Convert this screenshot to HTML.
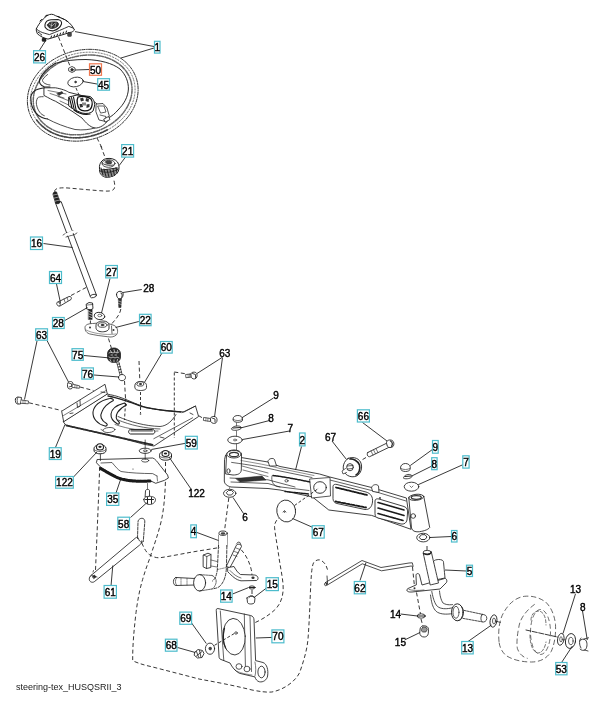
<!DOCTYPE html>
<html><head><meta charset="utf-8"><style>
html,body{margin:0;padding:0;background:#fff;width:603px;height:719px;overflow:hidden}
svg{display:block}
.ov{position:absolute;left:0;top:0;will-change:transform}
</style></head><body>
<svg width="603" height="719" viewBox="0 0 603 719">
<g fill="none" stroke="#202020" stroke-width="0.9" stroke-linecap="round" stroke-linejoin="round">
<path d="M58.5,37 L70,66" stroke-dasharray="4 2.6" stroke-linecap="butt"/>
<path d="M97,138 L103,150" stroke-dasharray="4 2.6" stroke-linecap="butt"/>
<path d="M100.8,146 L105.3,158" stroke-dasharray="4 2.6" stroke-linecap="butt"/>
<path d="M114,180.7 C114.8,184 115.2,187 114,189 C112.5,191 109,191.3 104,191 C95,190.5 80,189 68,188 C60,187.5 55,188 54.5,191.5" stroke-dasharray="4 2.6" stroke-linecap="butt"/>
<path d="M71,295.5 L88,286.5" stroke-dasharray="4 2.6" stroke-linecap="butt"/>
<path d="M90.4,320.5 L90.4,329" stroke-dasharray="4 2.6" stroke-linecap="butt"/>
<path d="M120.8,309 C120,314 117,318 112,323.5" stroke-dasharray="4 2.6" stroke-linecap="butt"/>
<path d="M108.5,338.5 L111.5,348.5" stroke-dasharray="4 2.6" stroke-linecap="butt"/>
<path d="M124.5,381 L125.5,398" stroke-dasharray="4 2.6" stroke-linecap="butt"/>
<path d="M139,361 L139.8,380" stroke-dasharray="4 2.6" stroke-linecap="butt"/>
<path d="M174.3,372 L186,373.8" stroke-dasharray="4 2.6" stroke-linecap="butt"/>
<path d="M29,402.8 L61.5,410.5" stroke-dasharray="4 2.6" stroke-linecap="butt"/>
<path d="M80,387 L93.5,390.5" stroke-dasharray="4 2.6" stroke-linecap="butt"/>
<path d="M198.5,415.6 L203.5,418.5" stroke-dasharray="4 2.6" stroke-linecap="butt"/>
<path d="M165.5,462 L165.5,480 C165,495 164,508 161.5,520 C158,535 153,548 149.3,559.6 C146.5,567 144.5,573 142.6,579.5 C139.5,590 137.5,601 136,612.7 C134,630 132.5,646 132.7,660.8 C140,664 146,665.5 152,666.8 C168,671 184,675 199,679 C215,682 232,685 252,690 C260,691.5 266,692.5 271.8,692 C283,690 295,682 299.6,672.7 C304,660 307,650 308,639 C309.5,620 310,600 310.8,583.6 C311.5,572 312,566 313.6,562.7 C316,559.5 320,559 322,561 C325,563 326.5,566 327.5,569.6" stroke-dasharray="4 2.6" stroke-linecap="butt"/>
<path d="M99.7,467 C98.5,500 97,535 95.5,570" stroke-dasharray="4 2.6" stroke-linecap="butt"/>
<path d="M141.7,542.9 C144,548 146.5,553 149.7,554.8 C153,557 156,557.8 159.6,557.8 C172,556 186,553 199.4,550.8 C208,549.5 214,548.5 219.8,547.4" stroke-dasharray="4 2.6" stroke-linecap="butt"/>
<path d="M241.3,549.9 C246,555 249.5,562 251.3,569.8 C252,573 252,576 252,579.7" stroke-dasharray="4 2.6" stroke-linecap="butt"/>
<path d="M252,590 L252,595" stroke-dasharray="4 2.6" stroke-linecap="butt"/>
<path d="M228.8,498 L224.6,530" stroke-dasharray="4 2.6" stroke-linecap="butt"/>
<path d="M229.5,487.5 L229.5,488.5" stroke-dasharray="4 2.6" stroke-linecap="butt"/>
<path d="M366,457.5 L361,460.5" stroke-dasharray="4 2.6" stroke-linecap="butt"/>
<path d="M427,546 L427,550" stroke-dasharray="4 2.6" stroke-linecap="butt"/>
<path d="M412.5,567 L414.6,587.7" stroke-dasharray="4 2.6" stroke-linecap="butt"/>
<path d="M416.5,592.5 L420.5,614" stroke-dasharray="4 2.6" stroke-linecap="butt"/>
<path d="M421,619 L423,626.5" stroke-dasharray="4 2.6" stroke-linecap="butt"/>
<path d="M281.5,515.5 C277,519 274,523 274.6,527.8 C275.5,537 277.5,546 278.7,555.7 C280,565 282,574 283,583.6 C284,595 281,604 274.6,610 C268,616 261,620 253.5,623.3" stroke-dasharray="4 2.6" stroke-linecap="butt"/>
</g>
<g stroke="#202020" stroke-width="0.8" stroke-linejoin="round" stroke-linecap="round">
<ellipse cx="82.75" cy="95.25" rx="56.2" ry="44.9" fill="none" stroke-width="0.85" stroke-dasharray="3 1.2 1.2 1.2" stroke="#222" transform="rotate(-16.5 82.75 95.25)"/>
<ellipse cx="82.75" cy="95.1" rx="53.2" ry="41.9" fill="none" stroke-width="0.7" stroke-dasharray="1.2 1.8" stroke="#444" transform="rotate(-16.5 82.75 95.25)"/>
<ellipse cx="82.75" cy="94.9" rx="50.2" ry="38.9" fill="none" stroke-width="1.5" stroke-dasharray="1.2 1 2.5 1.5 0.8 1.2" stroke="#666" transform="rotate(-16.5 82.75 95.25)"/>
<path d="M107.3,129.8 L103.2,131.9 L99.0,133.6 L94.6,135.1 L90.1,136.2 L85.6,137.1 L81.0,137.6 L76.5,137.8 L72.0,137.7 L67.6,137.3 L63.3,136.5 L59.2,135.4 L55.2,134.0 L51.4,132.3 L47.9,130.4 L44.7,128.1 L41.7,125.6 L39.0,122.9 L36.7,120.0" fill="none" stroke="#444" stroke-width="1.6" stroke-dasharray="1.5 1.2 3 1 1 1.5"/>
<path d="M55.4,63.3 C65,60.5 75,59.5 86,59.5 C100,60 112,63 120,69 C126,75 128.5,82 128.4,89 C128,97 124,104 118,110 C115,113.5 112,116 108.5,118" fill="none" stroke-width="0.95"/>
<path d="M44.3,87.8 L55.4,87.8 C62,89 66,90.5 68.8,92.3 L82,95.6 C89,98 94,101 98,105 L105,112 C108,115 109,118 108,120 C106,124 100,128.5 94.7,128 C90,127 86,123 82,118 L72,111.2 C67,108 62,105 55.4,101.2 C52,100 49,98 44.3,95.6 Z" fill="#fff" stroke-width="0.9"/>
<path d="M48,90.5 L66,94 M50,93.5 L64,98 M58,96.5 L72,102 M60,101 L74,107.5" fill="none" stroke-width="0.6"/>
<path d="M57,93.5 L62,91.5 L63,93 L59,95.5Z" fill="#333" stroke-width="0.5"/>
<path d="M69,97 L77,95 L90,96.5 C93,98 95,102 94.5,106 L93,111 C91,113.5 86,114 82,113 L74,109.5 L69,106Z" fill="#fff" stroke-width="1"/>
<path d="M69.5,98 L72,108 M71.5,97.5 L74,108.5 M73.5,97 L76,109.5" stroke="#111" stroke-width="1.1"/>
<path d="M78,97 C82,95.5 88,96.5 91,99 C93,102 92.5,107 90,109.5 C87,111.5 82,111.5 79.5,109 C77,106 76.5,100 78,97Z" fill="#fff" stroke="#111" stroke-width="1.3"/>
<path d="M80,98.5 l3,-1 l1,3 l-3,1z M86,98 l3,1 l-0.5,3 l-3,-1z M79.5,104 l3,0 l0.5,3 l-3,0.5z M86.5,104.5 l3,-0.5 l0,3 l-3,1z" fill="#333" stroke="none"/>
<path d="M82,102.5 l4,0 l0,3 l-4,0z" fill="#888" stroke="none"/>
<path d="M74,110 C78,113 84,115 90,114" fill="none" stroke="#111" stroke-width="1.2"/>
<path d="M96.5,104 L103,103.5 L107,108 L109.3,116 L106,121.5 L99,120 L96,112Z" fill="#fff" stroke-width="0.8"/>
<path d="M98,106 L104,106 L106,112 L101,113Z M100,115 L106,116.5 L105,120" fill="none" stroke-width="0.7"/>
<path d="M104,119 l4.5,-2.5 l1.5,3 l-4.5,2.5z" fill="#fff" stroke-width="0.8"/>
<path d="M55.4,63.3 C48,68 42,74 39.8,79 C38.5,82 40,85.5 44.3,86.7 L50,87" fill="none" stroke-width="1.1"/>
<path d="M47.6,74.5 C44.5,77 42.5,79 42.5,80.5 C43,83 46,84.5 50,85" fill="none" stroke-width="0.8"/>
<path d="M44.3,87.8 C40,88.5 36,89.5 34.2,91.2 C31.5,93.5 30.5,96 30.9,99 C31,104 32.5,109 35.4,112.3 C37.5,115 39.5,116.5 42,117.5 C44,118.3 46,118.8 47.6,119" fill="none" stroke-width="1.1"/>
<path d="M43.2,96.7 C40.5,96.5 38.5,97 37.6,97.9 C36.5,100 36,102.5 36.5,104.5 C37,108 38.5,110.5 39.8,112.3 C41,114 42.5,115 44.3,115.7" fill="none" stroke-width="0.8"/>
<path d="M47.6,119 C55,123 65,127 75,129.5 C83,130.5 90,129.5 94.7,128" fill="none" stroke-width="0.8"/>
<path d="M69,68 l3,-1.5 l3,1.5 l0,3 l-3,1.5 l-3,-1.5z" fill="#fff" stroke-width="0.8"/><circle cx="72" cy="69.8" r="1.2" fill="#333"/>
<ellipse cx="75.5" cy="82" rx="7.8" ry="4.7" fill="#fff" stroke-width="0.8" transform="rotate(-12 75.5 82)"/><circle cx="75.5" cy="82" r="0.8" fill="#333"/>
<path d="M36.4,28.7 C39,23 44,17.5 48,15.2 C50,14 53,13.8 55.4,15.6 L65,19.7 C68,21.5 71,24 73.3,27.9 L74.5,30 C73,31.5 71.5,32.5 70.3,32.4 L48,39.1 C44,38.5 40,36 37.5,33.9 C36.5,32 36,30.5 36.4,28.7Z" fill="#fff" stroke-width="1"/>
<path d="M37,29.5 C39,31 41.5,32.5 44.2,33.1 L49.4,34.6 C56,32 63,29 68.8,26.4 L73,28" fill="none" stroke-width="0.9"/>
<path d="M38,32 l1.5,1 M40.5,34 l1.2,1 M51,37.5 l0.5,-1.5 M54,36.6 l0.5,-1.5 M57,35.6 l0.5,-1.5 M60,34.6 l0.5,-1.5 M63,33.6 l0.5,-1.5 M66,32.5 l0.5,-1.5 M45,16.5 l2,-1.5 M40,21 l1.5,-1.5 M58,16.5 l2,0.8 M62,18.3 l1.5,0.8 M66,20.5 l1.5,1" fill="none" stroke-width="1" stroke="#111"/>
<path d="M45,24.5 C45.5,21.5 48,20 51,19.7 L58,19.5 C60.5,20 62,21.5 61.5,24 C60.5,27 57.5,29.5 53.5,30.8 C50,31 46.5,29.5 45,27Z" fill="#fff" stroke-width="1.1"/>
<path d="M47.5,25 C48,23 50,22 52,22 L56.5,22 C58.5,22.5 59,24 58,25.8 C56.5,27.5 54,28.5 51.5,28.5 C49.5,28.3 48,27 47.5,25Z" fill="#333" stroke-width="0.8"/>
<path d="M49,24 l3,2 l3,-3 M51,27.5 l1,-5 M55,27 l1,-4" stroke="#ddd" stroke-width="0.6" fill="none"/>
<rect x="42" y="38" width="4" height="3.5" rx="1" fill="#222" stroke-width="0.4"/><rect x="67.5" y="32.5" width="4" height="4" rx="1" fill="#444" stroke-width="0.4"/>
<path d="M99.5,166 C100,162 103,159 107,158.5 C111,158 115,159 117.5,162 C119.5,165 119.5,169 118,172 C116,175.5 111,177.5 106,177.3 C102,176.5 99.5,174 99.5,170 Z" fill="#fff" stroke-width="1"/>
<ellipse cx="108.5" cy="163.5" rx="6.5" ry="3.8" fill="#fff" stroke-width="0.8"/>
<path d="M105,162 l2,-1.5 l3,0 l2,1.5 l-1,2 l-4,0z" fill="#444" stroke-width="0.5"/>
<path d="M100,168.5 C105,170.5 112,170.5 118.8,167 C118.5,171 116,175 111,176.8 C106,177.5 102,176 100.3,172Z" fill="#8a8a8a" stroke="none"/>
<path d="M101,168 L103,175 M104,169 L106,176.5 M107,169.5 L109,177 M110,169.5 L112,176.5 M113,169 L114.5,175.5 M116,167.5 L117,173 M102,170 L117,168" fill="none" stroke-width="1" stroke="#222"/>
<path d="M102,163 C104,165 109,166 114,165" fill="none" stroke="#333" stroke-width="0.9"/>
<path d="M100,171 C105,173 112,173 118.5,169" fill="none" stroke-width="0.8"/>
<path d="M55.5,203 L90.3,296.5 L96.4,295 L61.3,202 Z" fill="#fff" stroke-width="0.9"/>
<path d="M53,194 C53,192 55,191.5 56.5,192 L60,201.5 C60.5,203.5 57,204.5 55.8,203.3 Z" fill="#222" stroke-width="0.8"/>
<path d="M53.5,195 l5,-1 M54.5,198 l5,-1.2 M55.5,201 l4.5,-1" stroke="#fff" stroke-width="0.5"/>
<ellipse cx="93.3" cy="296" rx="3.2" ry="1.6" fill="#fff" stroke-width="0.8" transform="rotate(-15 93.3 296)"/>
<path d="M63,235 C66,232 70,233 73,231 M66,237 C70,235 74,236 77,233" fill="none" stroke-width="0.7"/>
<path d="M64.5,234 L68,236 L75,232.3 L72,230.5Z" fill="#fff" stroke="none"/>
<path d="M58,302 L69,296.5 C71,296 72,298 71,299.5 L60,306 C58,306.5 56.5,303.5 58,302Z" fill="#fff" stroke-width="0.85"/>
<ellipse cx="58.5" cy="304" rx="1.6" ry="2.2" fill="#fff" stroke-width="0.7" transform="rotate(-30 58.5 304)"/>
<path d="M64,299 l1,3 M67,297.5 l1,3" fill="none" stroke-width="0.6"/>
<path d="M86.5,304 L89,302.5 L92.5,303 L93,308.5 L90.5,310 L87,309Z" fill="#fff" stroke-width="0.9"/>
<path d="M86.8,305 L92.8,304.5" fill="none" stroke-width="0.6"/>
<rect x="88.6" y="309.5" width="3.6" height="10" fill="#222" stroke-width="0.4"/>
<path d="M89,311.5 l3,1.2 M89,314 l3,1.2 M89,316.5 l3,1.2" stroke="#fff" stroke-width="0.6"/>
<ellipse cx="99.5" cy="316" rx="5.3" ry="3.6" fill="#fff" stroke-width="0.85" transform="rotate(10 99.5 316)"/>
<ellipse cx="99.8" cy="315.5" rx="2" ry="1.3" fill="#fff" stroke-width="0.6"/>
<path d="M116.5,294.5 C116.5,292 118.5,291.3 120,291.3 C122,291.3 123.3,292.5 123.2,294.5 C123,297 121.5,299 120,299 C118,299 116.6,297 116.5,294.5Z" fill="#fff" stroke-width="0.9"/>
<path d="M121,293 C122.5,294 122.6,296 121.5,297.5" stroke="#555" stroke-width="1.2" fill="none"/>
<path d="M118.3,299 L118.8,307.5 L121,307.5 L121.5,299Z" fill="#333" stroke-width="0.5"/>
<path d="M118.5,301 l2.8,1 M118.6,303.5 l2.8,1" stroke="#fff" stroke-width="0.5"/>
<path d="M85,327.5 C85,324.5 89,323.5 93,323.5 L99,323 L108,323.5 L113,325 C116.5,326 118,329 117.5,332.5 C117,335.5 114,337 110,337 L98,335.5 L90,334 C86.5,333 85,331 85,327.5Z" fill="#fff" stroke="#444" stroke-width="0.8" stroke-dasharray="4 0.7"/>
<path d="M86,330 C92,333 104,335.5 116,334" fill="none" stroke="#555" stroke-width="0.6"/>
<path d="M96,325 C96,322.5 100,321 103,321 C106.5,321 109,322.5 109,325 L109,328 C109,330.5 106,331.8 102.5,331.8 C99,331.8 96,330.5 96,328Z" fill="#fff" stroke-width="0.9"/>
<ellipse cx="102.5" cy="325" rx="4.5" ry="2.3" fill="#fff" stroke-width="0.8"/>
<ellipse cx="102.5" cy="325" rx="1.6" ry="0.9" fill="#333" stroke-width="0.4"/>
<circle cx="90" cy="327.5" r="1" fill="#333" stroke="none"/><circle cx="113.5" cy="330" r="1" fill="#333" stroke="none"/>
<path d="M111.5,326 L112,333.5" stroke-width="0.7"/>
<path d="M107.5,354 C107.5,350 110.5,348 114,348 C117.5,348 120.5,350.5 120.5,354 L120.5,357 C120.5,360.5 117.5,362.5 114,362.5 C110.5,362.5 107.5,360.5 107.5,357Z" fill="#2a2a2a" stroke-width="0.8"/>
<path d="M109,353 l2,-1 l2,1 l2,-1 l2,1 l2,-1 M109,357 l2,1 l2,-1 l2,1 l2,-1 l2,1 M110.5,350.5 l1,2 M114,349.5 l0.5,2.5 M117.5,350.5 l-0.5,2 M110,359.5 l1,2 M114,360 l0,2 M117.5,359.5 l-0.5,2 M111,355 l1.5,0 M115,355 l1.5,0" fill="none" stroke="#eee" stroke-width="0.7"/>
<path d="M117,362 L118.8,361.7 L122.2,374.8 L120.4,375.1Z" fill="#fff" stroke-width="0.7"/>
<path d="M117.6,364.3 l1.9,-0.4 M118.3,367 l1.9,-0.4 M119,369.7 l1.9,-0.4 M119.7,372.4 l1.9,-0.4" stroke-width="0.8" stroke="#111"/>
<path d="M118.5,377.5 C118.5,375.5 120.5,374.5 122,374.5 C124,374.5 125.5,375.8 125.5,377.5 C125.5,379.5 123.8,380.7 122,380.7 C120,380.7 118.5,379.5 118.5,377.5Z" fill="#fff" stroke-width="0.85"/>
<path d="M134.8,385.5 C134.8,383 137,381.5 140.5,381.5 C144,381.5 146.5,383 146.5,385.5 L146.5,387.5 C146.5,389.5 144,390.5 140.5,390.5 C137,390.5 134.8,389.5 134.8,387.5Z" fill="#fff" stroke-width="0.85"/>
<path d="M137,384 L138.5,381.8 L142.5,381.8 L144,384 L142.5,386 L138.5,386Z" fill="#fff" stroke-width="0.8"/>
<ellipse cx="140.5" cy="384" rx="1.6" ry="1" fill="#333" stroke="none"/>
<path d="M63.5,421.5 L106.8,394 C112,395 117,396 122,398 C130,401 138,405 146,407.5 C156,409.5 166,410.8 176,411.3 L184,412 L195.5,406 L198.6,416.5 L154,446 L145,444.5 L115,436.5 L66.5,425.5 Z" fill="#fff" stroke-width="0.85"/>
<path d="M62,411 L105,384.3 L107.3,394 L64,421.5 Z" fill="#fff" stroke-width="0.85"/>
<path d="M63.5,415.5 L106,390.5" fill="none" stroke-width="0.6"/>
<path d="M77,403 L77.5,407.5 L80.3,406 L80,400.5" fill="none" stroke-width="0.8"/>
<path d="M70,413.5 l3,-0.5 M101,392 l4,0.5" fill="none" stroke-width="0.8"/>
<path d="M66.5,425.5 L115,436.5 L152.5,444.8" fill="none" stroke="#2a2a2a" stroke-width="1.8" stroke-dasharray="1.1 0.8"/>
<path d="M108,396 C118,398 130,402 142,406.5 C154,409.5 166,410.8 181,412" fill="none" stroke="#222" stroke-width="1.4" stroke-dasharray="2 0.8"/>
<path d="M153.8,438.7 L192.6,417.8 M182,412.6 L195.5,406" fill="none" stroke-width="0.7"/>
<path d="M190,413 l3,1.5 M160,437 l4,1" fill="none" stroke-width="0.8"/>
<path d="M109.6,398.5 C101,400.5 94,405 93,412 C92.5,418 97,424 105,426 C107,426.5 108,424.5 106.5,423.5 C101,420.5 99.5,416 102,411.5 C104,407 108.5,403 113,400.8 C114.5,399.5 111.5,398 109.6,398.5Z" fill="#fff" stroke-width="1.1"/>
<path d="M124.5,403 C117,405 111.5,409 111,414 C110.7,418 113,421.5 117.5,424 C119,424.5 120,423 119,422 C116,419.5 115.5,416 117.5,412.5 C119.5,409.5 123,406.5 126.5,405 Z" fill="#fff" stroke-width="1.1"/>
<path d="M118,416.5 C130,422 145,426 160,426.5 C167,426 172,421 176,414.5" fill="none" stroke-width="0.8"/>
<path d="M118,420 C130,425 145,428.5 160,429" fill="none" stroke-width="0.7"/>
<path d="M115,424.5 C128,429 145,432 158,431" fill="none" stroke-width="0.6"/>
<path d="M130,429.5 C128,430 128,433.5 130.5,434 L153,434 C155.5,433.5 155.5,430 153,429.5Z" fill="#fff" stroke-width="1"/>
<path d="M131,430.8 L152.5,430.8" stroke="#555" stroke-width="1.2"/>
<ellipse cx="109" cy="430" rx="6" ry="2.5" fill="#fff" stroke-width="0.7" transform="rotate(-5 109 430)"/>
<path d="M101,429.5 l2,1" stroke-width="0.6"/>
<circle cx="140.5" cy="414" r="0.8" fill="#333" stroke="none"/>
<path d="M15.5,399 C15,401 15.5,403.5 17.5,404 L20.5,404 L21.5,397.5 L18,397 C16.5,397 15.8,398 15.5,399Z" fill="#fff" stroke-width="0.85"/>
<path d="M18,397.3 C16.8,399 16.8,402 18,403.8" fill="none" stroke-width="0.7"/>
<path d="M21.5,400 L28.5,401 L28.3,403.8 L21,403.3" fill="#fff" stroke-width="0.7"/>
<path d="M23,400.3 l0,3 M25,400.6 l0,3" stroke-width="0.5"/>
<path d="M67.5,384 C67.5,382.3 69,381.5 70.5,381.5 C72,381.5 73,382.5 73,384 L73,386.5 C73,388 71.5,389 70,389 C68.5,389 67.5,388 67.5,386.5Z" fill="#fff" stroke-width="0.85"/>
<path d="M68.5,383 l3,0.8 l0,3 M69,387 l3,-1" fill="none" stroke="#444" stroke-width="0.9"/>
<path d="M73,384.3 L79.5,385.8 L79.3,388.3 L73,387.5" fill="#fff" stroke-width="0.7"/>
<path d="M75,384.8 l-0.2,2.8 M77,385.3 l-0.2,2.8" stroke-width="0.5"/>
<path d="M186,374.5 L191,374 L191.5,377 L186.3,377.7Z" fill="#fff" stroke-width="0.7"/>
<path d="M188,374.2 l0.2,3.2 M189.6,374 l0.2,3.2" stroke-width="0.5"/>
<path d="M191,373.5 C191.5,372 194,371.8 195.8,372.5 C197.5,373.5 197.5,377 196,378.3 C194.5,379.5 192,379 191.3,377.5Z" fill="#fff" stroke-width="0.85"/>
<path d="M192.5,373.5 l3,1 l0,3" fill="none" stroke="#444" stroke-width="1"/>
<path d="M204,417.5 L210.5,418.5 L210.3,421.5 L203.8,420.5Z" fill="#fff" stroke-width="0.7"/>
<path d="M206,417.8 l-0.2,3 M208,418.1 l-0.2,3" stroke-width="0.5"/>
<path d="M210.5,418 C211,416.5 213.5,416 215.5,416.8 C217.5,417.8 217.5,421.5 216,422.8 C214.5,424 212,423.5 211,422Z" fill="#fff" stroke-width="0.85"/>
<path d="M212,418 l3,1 l0,3" fill="none" stroke="#444" stroke-width="1"/>
<path d="M97.5,459.5 L152.7,458 C155,458.5 157.5,462 160,465.4 L167.6,475 L168.4,478 L164.6,480.3 L155.7,483.3 L152,481.5 C140,481.5 128,480 119.9,478 C114,476 109,473 106.4,470.6 L100.4,466.9 L96.7,463 Z" fill="#fff" stroke-width="0.85"/>
<path d="M100.5,468.5 C105,471 110,474 116,477 C121,479.3 127,480.5 133,481 C139,481.3 145,481.3 150,481" fill="none" stroke="#1a1a1a" stroke-width="3" stroke-dasharray="1 0.6"/>
<path d="M101,463 L112,462.5 C115,466 118,470 121,471.5 C130,473 142,473.5 152.7,473.6 L157,476" fill="none" stroke-width="0.7"/>
<path d="M157,476 L157.5,481" stroke-width="0.6"/>
<circle cx="133" cy="469" r="0.6" fill="#333" stroke="none"/>
<path d="M94,448.5 C94,446.2 96.5,445 100,445 C103.5,445 106,446.2 106,448.5 L106,450.5 C106,452.5 103.5,453.8 100,453.8 C96.5,453.8 94,452.5 94,450.5Z" fill="#fff" stroke-width="1"/>
<path d="M96.5,447.5 C96.5,445 98,443.8 100,443.8 C102,443.8 103.5,445 103.5,447.5 C103.5,449 102,450 100,450 C98,450 96.5,449 96.5,447.5Z" fill="#fff" stroke-width="1.1"/>
<path d="M94.5,450 C97,452 103,452 105.5,450" fill="none" stroke-width="0.7"/>
<ellipse cx="100" cy="446.8" rx="1.7" ry="1.1" fill="#222" stroke="none"/>
<path d="M159.5,455 C159.5,452.5 162,451.3 165.5,451.3 C169,451.3 171.5,452.5 171.5,455 L171.5,457 C171.5,459 169,460.2 165.5,460.2 C162,460.2 159.5,459 159.5,457Z" fill="#fff" stroke-width="1"/>
<path d="M162,454 C162,451.5 163.5,450.5 165.5,450.5 C167.5,450.5 169,451.5 169,454 C169,455.5 167.5,456.5 165.5,456.5 C163.5,456.5 162,455.5 162,454Z" fill="#fff" stroke-width="1.1"/>
<path d="M160,456.5 C162.5,458.5 168.5,458.5 171,456.5" fill="none" stroke-width="0.7"/>
<ellipse cx="165.5" cy="453.5" rx="1.7" ry="1.1" fill="#222" stroke="none"/>
<path d="M100.4,454.5 L100.4,460.5" stroke-width="0.8"/>
<ellipse cx="145.2" cy="450.8" rx="6" ry="2.6" fill="#fff" stroke-width="0.85"/>
<ellipse cx="145.2" cy="450.8" rx="1.8" ry="0.9" fill="#fff" stroke-width="0.7"/>
<ellipse cx="145.2" cy="460.5" rx="3.6" ry="1.6" fill="#fff" stroke-width="0.75"/>
<path d="M145.2,453.2 L145.2,459.5" stroke-width="0.7"/>
<path d="M145.2,440 L145.2,448.5" stroke-width="0.7"/>
<path d="M145.5,490.5 C145.5,489 149.5,489 149.5,490.5 L149.5,497 L145.5,497Z" fill="#fff" stroke-width="0.85"/>
<path d="M143.8,499.5 C143.8,497 147,496.3 149.5,496.3 C152.5,496.3 155.5,497.5 155.5,499.5 C155.5,502.5 152.5,504.5 149.5,504.5 C146.5,504.5 143.8,502.5 143.8,499.5Z" fill="#fff" stroke-width="0.85"/>
<path d="M145.5,499.5 L153.5,499.5 M147.5,497.5 L147.5,503.5 M151.5,497.5 L151.5,503.5" stroke="#222" stroke-width="1"/>
<path d="M147.5,483.5 L147.5,489" stroke-width="0.6"/>
<path d="M91,575.5 L135.5,538 C138,536 141.5,537.5 141.8,540.5 C142,542.5 141,544 139.7,545 L94.3,581.7 C92.5,583 89.5,582 89.3,579.5 C89.2,577.5 89.8,576.5 91,575.5Z" fill="#fff" stroke-width="0.85"/>
<path d="M137.5,538.5 L138,522 C138,519.5 140,518.3 142,518.3 C144,518.3 145,520 144.8,522 L143.3,541" fill="#fff" stroke-width="0.85" stroke-dasharray="3 1.2"/>
<path d="M138.2,538 C139,541.5 141.5,543.5 143.5,541.5" fill="none" stroke-width="0.8"/>
<path d="M92.5,576.5 l2,-1.5 l1.5,2 l-2,1.5z" fill="#333" stroke-width="0.6"/>
<path d="M93,572 L93.5,570.5 M92,575.5 L97,577" stroke-width="0.7"/>
<path d="M176,577.5 L195,578.5 L195,585 L176,585.5 C172.5,585.5 172.5,577.5 176,577.5Z" fill="#fff" stroke-width="0.85"/>
<path d="M176.5,578 C175,580 175,583 176.5,585" fill="none" stroke-width="0.6"/>
<path d="M181,578.5 l0,6.5 M187,578.5 l0,6.5" stroke-width="0.5" stroke-dasharray="1.5 1"/>
<ellipse cx="199.6" cy="582.8" rx="6" ry="8.2" fill="#fff" stroke-width="0.9"/>
<path d="M199.6,574.6 L212,575.5 M199.6,591 L212,589" fill="none" stroke-width="0.7" stroke-dasharray="2 1"/>
<path d="M212,575.5 C216,577 217,581 215.5,584.5 C214,588 212.5,589 212,589" fill="none" stroke-width="0.7" stroke-dasharray="2 1"/>
<path d="M218.9,535 L218.5,546 M227.2,533.3 L226.9,546" fill="none" stroke-width="0.85"/>
<path d="M218.5,546 L217.3,570 C216.5,576 215,579 212.5,581 M226.9,546 L226.4,568 C226,576 224,582 220,586 C218,588 215,588.5 213,588.8" fill="none" stroke-width="0.85" stroke-dasharray="3 1.5"/>
<path d="M218.9,535 L218.5,545 L227,545 L227.2,533.3Z" fill="#fff" stroke="none"/>
<ellipse cx="223" cy="533.2" rx="4.1" ry="2.2" fill="#fff" stroke-width="0.85"/>
<ellipse cx="223" cy="533.5" rx="2.3" ry="1.2" fill="#444" stroke="none"/>
<path d="M217.5,569.5 L226.4,567.5" stroke-width="0.5" stroke-dasharray="1.5 1"/>
<path d="M203.5,555 L208,553.2 L211,554.5 L210.8,567.5 L206.5,568.5 L203.5,567Z" fill="#fff" stroke-width="0.85"/>
<path d="M203.5,555 L206.8,556.5 L211,554.5 M206.8,556.5 L206.5,568.5" fill="none" stroke-width="0.7"/>
<path d="M211,560 L217,561.5 M211,566 L217,567" stroke-width="0.6"/>
<path d="M226.5,566 L236,546 C237,543.5 241,543.5 241.5,546.5 L230,567.5Z" fill="#fff" stroke-width="0.85"/>
<path d="M236.5,544 l1.5,-2 l2,0.5 l1,2.5" fill="none" stroke-width="0.7"/>
<path d="M236,548 l4,1.5 M234.5,551.5 l4,1.5 M233,555 l4,1.5" stroke-width="0.6"/>
<path d="M228,567.5 L234,566.5 C236,570 237.5,572.5 240.5,574.5 L254.5,575 C258.5,575.5 259,579.5 256.5,580.5 L241,580.8 C236,580 232,576 228,572Z" fill="#fff" stroke-width="0.85"/>
<ellipse cx="253" cy="577.8" rx="1.6" ry="1.2" fill="#333" stroke="none"/>
<path d="M230,570.5 C233,574 237,577 241,578" fill="none" stroke-width="0.6"/>
<ellipse cx="252" cy="587.5" rx="3" ry="1.6" fill="#fff" stroke-width="0.85"/>
<path d="M249,587.5 L255,587.5" stroke-width="1"/>
<path d="M247,598 L247.5,602.5 C248,604.5 253.5,604.5 254.5,602.5 L255,598 C254,595.5 248,595.5 247,598Z" fill="#fff" stroke-width="0.85"/>
<path d="M249,597.5 l1.5,-1.5 l2.5,0 l1,1.5" fill="none" stroke="#333" stroke-width="1"/>
<path d="M226,455 L241,457.5 L268,462 L280,466.5 L319.5,474 L329.8,477 L371.6,487.5 L406.4,498 L411,529.3 L371.6,515.4 L328.8,510 L312.5,497 L280,490 L268,488.5 L231,487 C227,486 224.5,484 224.3,481 L224.5,460 Z" fill="#fff" stroke-width="0.85"/>
<path d="M226.5,455 C226.5,451.5 230,450 234,450 C238,450 241.5,451.5 241.5,455 L241.3,470 C241,474 237,475 233,475 L226,474Z" fill="#fff" stroke-width="0.85"/>
<ellipse cx="234" cy="454.2" rx="7.2" ry="3.8" fill="#fff" stroke-width="0.85"/>
<ellipse cx="234" cy="454.5" rx="4.5" ry="2.2" fill="#fff" stroke-width="1.2" stroke="#333"/>
<ellipse cx="228.5" cy="471" rx="1.6" ry="2.2" fill="#fff" stroke-width="0.8"/>
<path d="M231.6,462.4 C250,465 266,467.5 280,471 L312,477.5 M329.8,480 L371.6,490.5 L406,501" fill="none" stroke-width="0.7"/>
<path d="M241,460.5 C255,463 268,465 280,468.5 L314,475.5" fill="none" stroke-width="0.5"/>
<path d="M242,466 L268,473 M243,470 L268,476.5" fill="none" stroke-width="0.6"/>
<path d="M273,475.5 C285,477 298,479.5 310,482" fill="none" stroke="#1a1a1a" stroke-width="1.5" stroke-dasharray="1.5 0.7"/>
<path d="M272,476 C271,481 273,485 277,486.5 L309,490.5" fill="none" stroke-width="0.7"/>
<ellipse cx="286.5" cy="480.8" rx="1.6" ry="1.2" fill="#fff" stroke-width="0.7"/>
<path d="M230,478 L268,479.8 L295,487 M231,482 L268,483.5 L280,487" fill="none" stroke-width="0.7"/>
<path d="M236,478.5 L262,476 L266,480 L240,482Z" fill="#333" stroke-width="0.5"/>
<path d="M285,491.5 L309,494" fill="none" stroke="#1a1a1a" stroke-width="1.4" stroke-dasharray="1.5 0.7"/>
<path d="M268,461 C268.5,458.5 273,457.5 274.5,459.5 L276.5,466 L270,466Z" fill="#fff" stroke-width="0.8"/>
<path d="M371.6,487.5 C372,484.5 377,483.5 378.5,486 L379,492.5 L373,491.5Z" fill="#fff" stroke-width="0.8"/>
<path d="M310,479 L330,477.5 L330.5,496 L312,498Z" fill="#fff" stroke-width="0.75"/>
<ellipse cx="320" cy="487.5" rx="6.3" ry="5.8" fill="#fff" stroke-width="0.9"/>
<circle cx="380" cy="498" r="0.9" fill="#333" stroke="none"/>
<path d="M333,486 C333,484.5 335,484 337,484.5 L366,492 C371,493.5 373,497 372.5,502 C372,507 369,510 365,509.5 L337,503.5 C334.5,503 333,501 333,499Z" fill="#fff" stroke-width="0.85"/>
<path d="M336,487.5 L367,495 M335.5,501.5 L366,507.5" fill="none" stroke="#1a1a1a" stroke-width="1.8" stroke-dasharray="1.2 0.6"/>
<path d="M375,500.5 C375,499 377,498.5 379,499 L404,506.5 C407,507.5 408,510 407.5,513 L407,520 C406.5,523 404,524.5 401,524 L378,518 C376,517.5 375,516 375,514Z" fill="#fff" stroke-width="0.85"/>
<path d="M378,502.5 L404,510 M378,508 L404,515.5 M378,513.5 L403,520.5" fill="none" stroke="#1a1a1a" stroke-width="1.6" stroke-dasharray="1.2 0.6"/>
<path d="M408.8,497.5 L411.5,528 C412,531 415.5,532 418,531.8 C422,531.6 428,530 429.7,527.5 L423.8,496.5 Z" fill="#fff" stroke-width="0.85"/>
<ellipse cx="416.3" cy="497.3" rx="7.5" ry="3" fill="#fff" stroke-width="0.85" transform="rotate(-6 416.3 497.3)"/>
<ellipse cx="416.3" cy="497.5" rx="5" ry="1.8" fill="#fff" stroke-width="1.3" stroke="#333"/>
<circle cx="413.2" cy="516" r="2.3" fill="#fff" stroke-width="0.8"/>
<path d="M233,419 C233,416.5 235.5,415.5 237.8,415.5 C240.3,415.5 242.5,416.5 242.5,419 L242.5,420 C242.5,421.5 240.3,422.3 237.8,422.3 C235.5,422.3 233,421.5 233,420Z" fill="#fff" stroke-width="0.85"/>
<path d="M233.3,419.5 C236,421 240,421 242.3,419.5" fill="none" stroke-width="0.6"/>
<path d="M231.5,428.5 C233,425.5 240,425 241.5,427.5 C241,430 235,431 232.5,430Z" fill="#fff" stroke-width="0.8"/>
<path d="M233,428 L240.5,427.5" stroke="#222" stroke-width="1.1"/>
<path d="M236.5,423 L236.5,426 M236.5,431 L236.5,436.5 M236.5,444 L236.5,450" stroke-width="0.6"/>
<ellipse cx="235" cy="440" rx="7.3" ry="3.8" fill="#fff" stroke-width="0.85"/>
<ellipse cx="235" cy="440" rx="1.6" ry="0.9" fill="#fff" stroke-width="0.6"/>
<ellipse cx="229.7" cy="493.3" rx="6.2" ry="4" fill="#fff" stroke-width="0.85"/>
<path d="M226.5,492.5 l2,-2 l3,0 l2,2 l-2,2.5 l-3,0z" fill="#fff" stroke="#333" stroke-width="0.9"/>
<ellipse cx="286.2" cy="511" rx="9.4" ry="11" fill="#fff" stroke-width="0.85" transform="rotate(-10 286.2 511)"/>
<path d="M283,512 l1.5,-1.5 l1.5,1.5" fill="none" stroke-width="0.7"/><circle cx="284.5" cy="512" r="0.8" fill="#333" stroke="none"/>
<path d="M348,458.5 C352,456.5 358,457.5 360.5,462 C363,467 361,474 356.5,476 C352,478 346,476 344,471.5 C342,467 344,461 348,458.5Z" fill="#fff" stroke-width="0.9"/>
<path d="M350,459 C353,458.5 358,461 359.5,465 C360.5,469 359,473.5 356,475" fill="none" stroke="#222" stroke-width="1.6"/>
<ellipse cx="350" cy="467.2" rx="3.3" ry="3.6" fill="#fff" stroke-width="0.85"/>
<path d="M347,466 l6,-0.5 M347.5,469 l5,-0.5" stroke-width="0.7"/>
<path d="M345.5,468.5 L342,471 L343,474 L346.5,472.5" fill="#fff" stroke-width="0.7"/>
<path d="M367.8,452.5 L387,443 L389,447.3 L369.8,456.6 C367.8,457.5 366.2,454 367.8,452.5Z" fill="#fff" stroke-width="0.85"/>
<path d="M371,451 l2,4 M373.5,449.8 l2,4 M376,448.6 l2,4" stroke-width="0.6"/>
<path d="M386.5,443 C386,440.5 389,439.5 391.5,440.2 C394,441 394.5,444.5 393,446.5 C391.5,448 388.5,448 387.5,446.5Z" fill="#fff" stroke-width="0.9"/>
<path d="M390.5,441 C392.5,442 393,444.5 391.5,446.3" fill="none" stroke="#333" stroke-width="1.3"/>
<path d="M400.5,467.5 C400.5,465 403,463.5 405.5,463.5 C408,463.5 410.3,465 410.3,467.5 L410.3,468.5 C410.3,470.5 408,471.5 405.5,471.5 C403,471.5 400.5,470.5 400.5,468.5Z" fill="#fff" stroke-width="0.85"/>
<path d="M401,468.5 C403,470 408,470 410,468.3" fill="none" stroke-width="0.6"/>
<path d="M403.8,477 C405,474 411,473.5 412.2,476 C411.8,478.5 406,479.5 404,478.5Z" fill="#fff" stroke-width="0.8"/>
<path d="M405,476.5 L411,476" stroke="#222" stroke-width="1.1"/>
<ellipse cx="411.5" cy="486.7" rx="7.3" ry="4.5" fill="#fff" stroke-width="0.85"/>
<path d="M410,486 l1.5,1.5 l1.5,-1.5" fill="none" stroke-width="0.6"/>
<ellipse cx="423.3" cy="537.6" rx="6.6" ry="4.3" fill="#fff" stroke-width="0.85"/>
<path d="M419.5,537 l2,-2.3 l3.5,0 l2,2.3 l-2,2.5 l-3.5,0z" fill="#fff" stroke="#333" stroke-width="1"/>
<path d="M433.5,562 C433.5,560 437,559.5 439,559.5 C441.5,559.5 443.5,560.5 443.5,562 L445,578 L435,580Z" fill="#fff" stroke-width="0.85" stroke-dasharray="2.5 0.8"/>
<path d="M416,575 C416,573 419,573 419.5,575 L422,585 L444.5,578.5 C447,578 447.5,582 446,583 L440,589 L412,592 C407,592.5 405.5,590 408,588.5 L416,585Z" fill="#fff" stroke-width="0.85"/>
<path d="M409,589.5 C412,590.5 418,590.8 424,590" fill="none" stroke-width="0.6"/>
<circle cx="414.5" cy="588.3" r="1" fill="#333" stroke="none"/>
<path d="M423.2,553 L430.2,585 L438.5,583 L431.2,551.5Z" fill="#fff" stroke-width="0.85" stroke-dasharray="3 0.8"/>
<ellipse cx="427.2" cy="552.2" rx="4" ry="1.8" fill="#fff" stroke-width="0.85"/>
<path d="M423.5,553.5 C426,555 429,555 431,553" fill="none" stroke="#222" stroke-width="1.3"/>
<path d="M431.8,591.5 C433,598 434.5,603 437,606 C440,609 446,609.5 453,607.6 L453,613.5 C446,614.5 440,614 436.5,611 C433,607 431,600 430,592Z" fill="#fff" stroke="none"/>
<path d="M431.8,591.5 C433,598 434.5,603 437,606 C440,609 446,609.5 453,607.6 M439.5,591 C440,596 441,600 443,603 C446,605 450,605 453,604.5" fill="none" stroke-width="0.8" stroke-dasharray="2.5 0.8"/>
<path d="M430.5,595 C431.5,603 433,609 437,612 C441,614.5 447,614.5 453,613.5" fill="none" stroke-width="0.8" stroke-dasharray="2.5 0.8"/>
<ellipse cx="457.3" cy="612.3" rx="5.8" ry="8.5" fill="#fff" stroke-width="0.95"/>
<path d="M460,605 C463,607 464,611 463,615.5 C462,619 460,621 458,620.5" fill="none" stroke-width="0.8"/>
<ellipse cx="456" cy="612.3" rx="3" ry="6" fill="#fff" stroke-width="0.7"/>
<path d="M464,610.4 L482.8,614.4 M463,618.4 L482,621.8" fill="none" stroke-width="0.8" stroke-dasharray="2 1"/>
<path d="M482,614.6 C480.5,616 480.5,620.5 482,621.8 C484,622.5 486.5,621.5 486.8,618.5 C487,615.5 484.5,614 482,614.6Z" fill="#fff" stroke-width="0.8"/>
<path d="M325.5,582.5 L362,560.5 L381,567.5 L409,563 L412.3,562.8 L413.2,566.5 L411,566 L381.5,570.8 L362.3,563.8 L326.5,585.5 C324.5,586.5 323.5,583.8 325.5,582.5Z" fill="#fff" stroke-width="0.8"/>
<path d="M327,576 L327.5,583" stroke-width="0.8"/><circle cx="326.8" cy="583.8" r="1.2" fill="#333" stroke="none"/>
<ellipse cx="421.2" cy="616" rx="4" ry="2.2" fill="#fff" stroke-width="0.85"/>
<path d="M417.5,616 L425,616" stroke="#222" stroke-width="1.2"/>
<path d="M420,629 C420,626.5 422.5,625.8 424.2,625.8 C426.5,625.8 428.5,627 428.5,629.5 L428.3,633.5 C428,636 426,637 424.2,637 C421.5,637 420,635.5 419.8,633.5Z" fill="#fff" stroke-width="0.85"/>
<path d="M421.3,629.5 l1.5,-2.5 l3,0 l1.5,2.5 l-1.5,2.5 l-3,0z" fill="#999" stroke="#222" stroke-width="0.7"/>
<path d="M499,641.5 C498,630 499.5,620 503.3,613.2 C509,603 516,597.5 524.5,596.3 C533,595.5 540,598 545.6,602 C551,607 554.5,615 555.5,624.5 C556,635 554.5,644 551.3,651.3 C547,658.5 540,662 531.5,662 C522,662 513,660 506,655.5 C502,652 499.5,647 499,641.5Z" fill="none" stroke="#333" stroke-width="0.75" stroke-dasharray="4.5 3.5"/>
<path d="M534.4,604.5 C527,610 520,618 518.8,627.3 C517,636 516.5,644 517.4,648.5 C519,653 522,657 527.3,658.3" fill="none" stroke="#333" stroke-width="0.75" stroke-dasharray="4.5 3.5"/>
<ellipse cx="540.5" cy="632" rx="10" ry="22.5" fill="none" stroke="#333" stroke-width="0.7" stroke-dasharray="4 3.5"/>
<path d="M531,620 C531,615 534,611 539,611 C544,612 546,618 546,625 M530,635 C530,645 533,652 538,653 C542,653 545,648 546,642" fill="none" stroke="#333" stroke-width="0.7" stroke-dasharray="3 2"/>
<path d="M526,630 L558.3,637.2" stroke="#222" stroke-width="0.9" stroke-dasharray="5 1.5"/>
<path d="M497,621.5 L500.5,622.4" stroke-width="0.7"/>
<ellipse cx="493.5" cy="621" rx="3.4" ry="6.2" fill="#fff" stroke-width="0.9" transform="rotate(10 493.5 621)"/>
<ellipse cx="494" cy="621" rx="1.5" ry="3" fill="#fff" stroke-width="0.7"/>
<ellipse cx="560.8" cy="639.3" rx="3.2" ry="6" fill="#fff" stroke-width="0.85" transform="rotate(10 560.8 639.3)"/>
<ellipse cx="561" cy="639.3" rx="1.3" ry="2.6" fill="#fff" stroke-width="0.65"/>
<ellipse cx="570.5" cy="641" rx="5" ry="7.5" fill="#fff" stroke-width="0.9" transform="rotate(10 570.5 641)"/>
<ellipse cx="570.8" cy="641" rx="2.3" ry="3.7" fill="#fff" stroke-width="0.7"/>
<path d="M581,638 C579,640 579,645 581,648 M579.5,641 C581,639 584,638.5 585.5,640 C587.5,642 587.5,647 585.5,649.5 C584,651 581,650.5 580,649" fill="none" stroke-width="0.85"/>
<path d="M584,639 L588.6,637.8 M584.5,650 L588,651" stroke-width="0.8"/>
<path d="M216.2,610 C216,608.5 217.5,608.3 219,608.8 L250.6,615.5 C253,616 254,618 254,620 L255.6,660.6 L263,662.5 C267,664 268.5,670 267.6,676 C267,680 263,682.5 259.5,681.8 C257,681.3 255.5,679 254.9,676.9 L239.4,673.3 C235,671 232,667 230,663 L221,659.5 C219.5,659 219,658 219,656.5 Z" fill="#fff" stroke-width="0.85"/>
<path d="M220.3,611 L223.8,660.5 M244.3,614 L245.5,670 M250,616 L251.5,671.5" fill="none" stroke-width="0.7"/>
<ellipse cx="234" cy="636.7" rx="11.2" ry="18.3" fill="#fff" stroke-width="0.85" transform="rotate(-3 234 636.7)"/>
<path d="M224.5,628 C223,634 223,642 225.5,648" fill="none" stroke="#222" stroke-width="1.2"/>
<ellipse cx="236" cy="633" rx="1.3" ry="1.2" fill="#fff" stroke-width="0.7"/>
<ellipse cx="239" cy="666.5" rx="3" ry="2.8" fill="#fff" stroke-width="0.75"/>
<ellipse cx="247" cy="669" rx="3" ry="2.8" fill="#fff" stroke-width="0.75"/>
<ellipse cx="261.5" cy="672" rx="3.6" ry="5.8" fill="#fff" stroke-width="0.85"/>
<path d="M255,662 C256,667 256,672 255,676" fill="none" stroke-width="0.6"/>
<path d="M234,669 C236,672 244,674 252,675" fill="none" stroke-width="0.5"/>
<ellipse cx="210" cy="648.7" rx="4.6" ry="5.6" fill="#fff" stroke-width="0.85"/>
<ellipse cx="210.2" cy="648.6" rx="1.7" ry="1.8" fill="#444" stroke="none"/>
<path d="M195,652 L198,649.5 L202.5,650.5 L204,653.5 L202,657.5 L197.5,658 L194.5,655.5Z" fill="#fff" stroke-width="0.85"/>
<path d="M196.5,651.5 l2,5.5 M199.5,650.3 l1.5,7 M202,651.5 l-5.5,4.5" stroke="#333" stroke-width="0.9"/>
</g>
<g fill="none" stroke="#202020" stroke-width="0.9">
<path d="M76,88 L79,95" stroke-dasharray="3 2"/>
<path d="M140.5,392 L140.5,413" stroke-dasharray="3 2"/>
<path d="M174.3,372.5 L174.3,438" stroke-dasharray="3 2"/>
<path d="M125.8,398.5 L124.5,420" stroke-dasharray="3 2"/>
<path d="M294.5,505.5 L319,488" stroke-dasharray="3 2"/>
<path d="M214.5,645.3 L235,633.1" stroke-dasharray="3 2"/>
</g>
<g fill="none" stroke="#151515" stroke-width="0.85">
<path d="M154,46.5 L75,31.6"/>
<path d="M154,48 L121,58"/>
<path d="M39,51 L46,40"/>
<path d="M89,69.5 L75,70"/>
<path d="M97,84 L83,81.5"/>
<path d="M125.7,156.8 L119.2,165.5"/>
<path d="M43.5,243.5 L72.5,247.5"/>
<path d="M56.5,284 L60.5,303"/>
<path d="M64.8,320.5 L87.5,307.5"/>
<path d="M110,278.5 L101.5,313"/>
<path d="M141.8,289.5 L123,292.5"/>
<path d="M138.8,321.5 L115.5,327.5"/>
<path d="M84,355.5 L108,357.8"/>
<path d="M94,375 L119,377"/>
<path d="M162,353 L144.5,382.3"/>
<path d="M55,448.6 L65,424.5"/>
<path d="M37,341 L24.5,399.5"/>
<path d="M47,340.5 L68.5,382"/>
<path d="M222,357.5 L197,373.5"/>
<path d="M222.5,357.5 L214.5,417"/>
<path d="M116,493 L120.6,479.5"/>
<path d="M73.5,477 L97,452"/>
<path d="M191,489 L169,457"/>
<path d="M185,443.4 L151.3,449.5"/>
<path d="M130.5,517.5 L146.5,503"/>
<path d="M111,586 L112.8,565.5"/>
<path d="M197,532.5 L218.5,540.5"/>
<path d="M232.5,594 L248,587.8"/>
<path d="M266.5,588 L254,597.5"/>
<path d="M301.5,446.5 L295.6,469.8"/>
<path d="M273.5,398 L241.5,418"/>
<path d="M269.5,420.5 L240.5,428"/>
<path d="M289.5,431 L242.5,439.5"/>
<path d="M243.5,513.5 L233,497.5"/>
<path d="M313,527.5 L292.5,518.5"/>
<path d="M332,441 L346.5,459.5"/>
<path d="M362.5,422.5 L387,441"/>
<path d="M432.3,449.6 L410.3,465.5"/>
<path d="M431.5,466.2 L411.8,476"/>
<path d="M462.6,464.8 L418.2,484.7"/>
<path d="M451.3,536.5 L430,537.5"/>
<path d="M466.5,571 L445,570"/>
<path d="M360,580.5 L366,562.5"/>
<path d="M400.5,614 L417.5,616"/>
<path d="M404.5,640 L420,632.5"/>
<path d="M468,641.5 L491.5,625"/>
<path d="M575.5,593.8 L563,633.5"/>
<path d="M582.5,611 L587.3,640"/>
<path d="M561.5,662.6 L572.4,646"/>
<path d="M190.5,621.5 L206.3,643.5"/>
<path d="M177.5,647.5 L195.3,652.5"/>
<path d="M272.7,637.4 L255.8,638"/>
</g>
<rect x="154.5" y="41.3" width="5.5" height="11.800000000000004" fill="#fff" stroke="#4dbccc" stroke-width="1.2"/>
<rect x="33.6" y="50.7" width="11.899999999999999" height="12.199999999999996" fill="#fff" stroke="#4dbccc" stroke-width="1.2"/>
<rect x="89.5" y="63.8" width="12" height="11.5" fill="#fff" stroke="#f07850" stroke-width="1.2"/>
<rect x="97.7" y="78.7" width="11.799999999999997" height="11.5" fill="#fff" stroke="#4dbccc" stroke-width="1.2"/>
<rect x="121.7" y="144.6" width="11.899999999999991" height="12.5" fill="#fff" stroke="#4dbccc" stroke-width="1.2"/>
<rect x="30.5" y="237.0" width="12" height="12.5" fill="#fff" stroke="#4dbccc" stroke-width="1.2"/>
<rect x="49.5" y="271.5" width="12" height="12" fill="#fff" stroke="#4dbccc" stroke-width="1.2"/>
<rect x="105.7" y="265.5" width="11.700000000000003" height="12.399999999999977" fill="#fff" stroke="#4dbccc" stroke-width="1.2"/>
<rect x="52.5" y="317.5" width="11.700000000000003" height="11" fill="#fff" stroke="#4dbccc" stroke-width="1.2"/>
<rect x="139.5" y="314.3" width="11.599999999999994" height="11.399999999999977" fill="#fff" stroke="#4dbccc" stroke-width="1.2"/>
<rect x="35.7" y="328.8" width="11.799999999999997" height="11.399999999999977" fill="#fff" stroke="#4dbccc" stroke-width="1.2"/>
<rect x="72.0" y="348.7" width="11.299999999999997" height="11.600000000000023" fill="#fff" stroke="#4dbccc" stroke-width="1.2"/>
<rect x="81.8" y="367.9" width="11.600000000000009" height="11.200000000000045" fill="#fff" stroke="#4dbccc" stroke-width="1.2"/>
<rect x="160.5" y="341.5" width="11.699999999999989" height="11.600000000000023" fill="#fff" stroke="#4dbccc" stroke-width="1.2"/>
<rect x="49.3" y="447.7" width="11.900000000000006" height="11.800000000000011" fill="#fff" stroke="#4dbccc" stroke-width="1.2"/>
<rect x="55.6" y="476.5" width="17.699999999999996" height="11.699999999999989" fill="#fff" stroke="#4dbccc" stroke-width="1.2"/>
<rect x="185.4" y="436.3" width="11.900000000000006" height="12.699999999999989" fill="#fff" stroke="#4dbccc" stroke-width="1.2"/>
<rect x="299.5" y="433.0" width="5.600000000000023" height="12.899999999999977" fill="#fff" stroke="#4dbccc" stroke-width="1.2"/>
<rect x="357.4" y="409.8" width="12.0" height="12.199999999999989" fill="#fff" stroke="#4dbccc" stroke-width="1.2"/>
<rect x="432.5" y="440.5" width="5.699999999999989" height="12.699999999999989" fill="#fff" stroke="#4dbccc" stroke-width="1.2"/>
<rect x="431.7" y="457.7" width="5.400000000000034" height="12.0" fill="#fff" stroke="#4dbccc" stroke-width="1.2"/>
<rect x="462.8" y="455.8" width="6.300000000000011" height="12.300000000000011" fill="#fff" stroke="#4dbccc" stroke-width="1.2"/>
<rect x="312.2" y="525.7" width="12.0" height="12.399999999999977" fill="#fff" stroke="#4dbccc" stroke-width="1.2"/>
<rect x="451.5" y="530.5" width="5.5" height="11.5" fill="#fff" stroke="#4dbccc" stroke-width="1.2"/>
<rect x="466.5" y="565.2" width="6" height="11.299999999999955" fill="#fff" stroke="#4dbccc" stroke-width="1.2"/>
<rect x="106.6" y="493.0" width="12.200000000000003" height="12.399999999999977" fill="#fff" stroke="#4dbccc" stroke-width="1.2"/>
<rect x="117.8" y="517.2" width="11.700000000000003" height="12.5" fill="#fff" stroke="#4dbccc" stroke-width="1.2"/>
<rect x="104.1" y="585.5" width="12.300000000000011" height="12.700000000000045" fill="#fff" stroke="#4dbccc" stroke-width="1.2"/>
<rect x="179.8" y="612.1" width="11.799999999999983" height="12.199999999999932" fill="#fff" stroke="#4dbccc" stroke-width="1.2"/>
<rect x="165.4" y="639.2" width="11.599999999999994" height="12.0" fill="#fff" stroke="#4dbccc" stroke-width="1.2"/>
<rect x="190.8" y="524.9" width="5.599999999999994" height="12.800000000000068" fill="#fff" stroke="#4dbccc" stroke-width="1.2"/>
<rect x="220.6" y="590.0" width="11.5" height="12.200000000000045" fill="#fff" stroke="#4dbccc" stroke-width="1.2"/>
<rect x="266.1" y="577.7" width="12.299999999999955" height="12.899999999999977" fill="#fff" stroke="#4dbccc" stroke-width="1.2"/>
<rect x="271.9" y="629.9" width="12.0" height="12.899999999999977" fill="#fff" stroke="#4dbccc" stroke-width="1.2"/>
<rect x="354.3" y="581.5" width="11.199999999999989" height="12.299999999999955" fill="#fff" stroke="#4dbccc" stroke-width="1.2"/>
<rect x="461.7" y="641.5" width="11.5" height="12.399999999999977" fill="#fff" stroke="#4dbccc" stroke-width="1.2"/>
<rect x="555.7" y="662.5" width="11.299999999999955" height="12.299999999999955" fill="#fff" stroke="#4dbccc" stroke-width="1.2"/>
</svg>
<svg class="ov" width="603" height="719" viewBox="0 0 603 719">
<g font-family="Liberation Sans, sans-serif" font-size="10" fill="#000" stroke="#000" stroke-width="0.38" text-anchor="middle">
<text x="157.25" y="51.30">1</text>
<text x="39.55" y="60.90">26</text>
<text x="95.5" y="73.65">50</text>
<text x="103.6" y="88.55">45</text>
<text x="127.65" y="154.95">21</text>
<text x="36.5" y="247.35">16</text>
<text x="55.5" y="281.60">64</text>
<text x="111.55000000000001" y="275.80">27</text>
<text x="58.35" y="327.10">28</text>
<text x="145.3" y="324.10">22</text>
<text x="41.6" y="338.60">63</text>
<text x="77.65" y="358.60">75</text>
<text x="87.6" y="377.60">76</text>
<text x="166.35" y="351.40">60</text>
<text x="55.25" y="457.70">19</text>
<text x="64.45" y="486.45">122</text>
<text x="191.35000000000002" y="446.75">59</text>
<text x="302.3" y="443.55">2</text>
<text x="363.4" y="420.00">66</text>
<text x="435.35" y="450.95">9</text>
<text x="434.4" y="467.80">8</text>
<text x="465.95000000000005" y="466.05">7</text>
<text x="318.2" y="536.00">67</text>
<text x="454.25" y="540.35">6</text>
<text x="469.5" y="574.95">5</text>
<text x="112.69999999999999" y="503.30">35</text>
<text x="123.65" y="527.55">58</text>
<text x="110.25" y="595.95">61</text>
<text x="185.7" y="622.30">69</text>
<text x="171.2" y="649.30">68</text>
<text x="193.60000000000002" y="535.40">4</text>
<text x="226.35" y="600.20">14</text>
<text x="272.25" y="588.25">15</text>
<text x="277.9" y="640.45">70</text>
<text x="359.9" y="591.75">62</text>
<text x="467.45" y="651.80">13</text>
<text x="561.35" y="672.75">53</text>
<text x="148.8" y="292.00">28</text>
<text x="224.8" y="356.70">63</text>
<text x="276.04999999999995" y="399.45">9</text>
<text x="271.04999999999995" y="421.90">8</text>
<text x="290.3" y="432.25">7</text>
<text x="330.6" y="440.55">67</text>
<text x="196.5" y="497.20">122</text>
<text x="245.0" y="520.95">6</text>
<text x="395.45" y="618.05">14</text>
<text x="400.4" y="646.45">15</text>
<text x="575.5" y="592.85">13</text>
<text x="582.75" y="610.50">8</text>
</g>
<text x="16" y="689.6" font-family="Liberation Sans, sans-serif" font-size="9" fill="#222">steering-tex_HUSQSRII_3</text>
</svg>
</body></html>
